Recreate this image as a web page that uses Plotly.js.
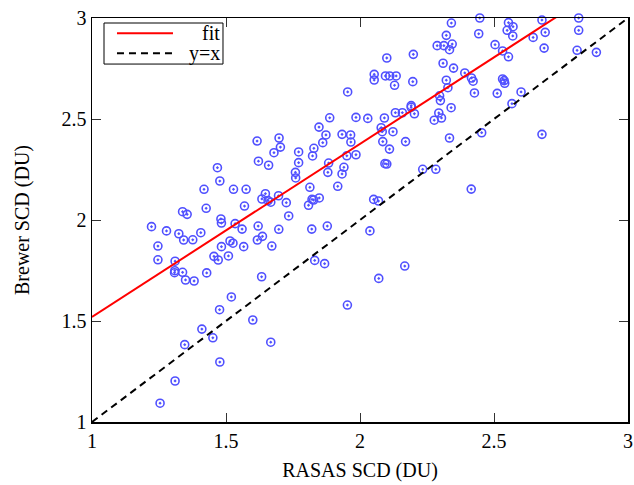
<!DOCTYPE html>
<html>
<head>
<meta charset="utf-8">
<script src="https://cdn.plot.ly/plotly-3.0.1.min.js"></script>
<style>html,body{margin:0;padding:0;background:#fff;}#chart{width:634px;height:485px;}</style>
</head>
<body>
<div id="chart"></div>
<script>
// RASAS SCD (x) vs Brewer SCD (y), both in DU
const rasas = [
1.468,1.477,1.621,1.659,1.679,1.418,1.528,1.575,1.647,1.634,1.657,1.667,1.696,1.725,1.734,
1.338,1.355,1.426,1.569,1.481,1.483,1.534,1.560,1.620,1.697,1.222,1.278,1.324,1.342,1.376,
1.406,1.636,1.617,1.515,1.526,1.483,1.566,1.671,1.246,1.246,1.310,1.455,1.471,1.509,1.309,
1.308,1.338,1.349,1.381,1.428,1.633,1.520,1.476,1.600,1.410,1.451,1.346,1.667,1.477,1.310,
1.254,1.616,1.698,1.703,2.341,2.322,2.288,2.313,2.344,2.334,2.100,2.199,2.310,2.349,2.053,
2.053,2.095,2.111,2.135,2.129,2.197,2.322,2.328,1.954,2.297,2.300,2.340,1.887,1.985,2.029,
2.091,2.132,2.158,2.191,2.191,2.203,2.294,2.277,2.304,1.847,1.873,1.861,1.933,1.965,1.966,
2.079,2.083,2.123,2.085,2.110,2.170,2.334,1.771,1.828,1.823,1.951,1.985,1.771,1.759,1.760,
1.883,1.880,1.940,1.933,2.093,2.100,2.234,2.283,1.813,1.917,1.821,1.827,1.848,1.808,2.051,
2.069,1.820,1.878,2.037,1.831,1.868,2.167,2.070,1.953,2.447,2.554,2.571,2.549,2.570,2.443,
2.504,2.532,2.554,2.646,2.679,2.691,2.687,2.816,2.816,2.810,2.882,2.391,2.416,2.422,2.532,
2.538,2.540,2.427,2.512,2.601,2.567,2.454,2.679,2.415
];
const brewer = [
2.259,2.193,2.291,2.271,2.333,2.152,2.152,2.152,2.130,2.104,2.096,2.088,2.120,2.086,2.020,
2.041,2.028,2.058,2.069,2.005,1.985,1.982,1.955,1.970,1.954,1.967,1.946,1.932,1.901,1.902,
1.937,1.919,1.901,1.896,1.885,1.868,1.868,1.871,1.871,1.803,1.796,1.820,1.802,1.822,1.749,
1.739,1.741,1.703,1.698,1.738,1.719,1.619,1.556,1.505,1.460,1.417,1.383,1.395,1.297,1.203,
1.093,2.391,2.406,2.361,2.975,2.914,2.863,2.863,2.871,2.843,2.802,2.820,2.776,2.752,2.721,
2.693,2.713,2.713,2.713,2.667,2.685,2.692,2.655,2.634,2.615,2.591,2.556,2.506,2.508,2.503,
2.505,2.531,2.531,2.566,2.558,2.526,2.530,2.494,2.505,2.460,2.421,2.383,2.424,2.421,2.386,
2.457,2.437,2.437,2.388,2.351,2.388,2.406,2.337,2.355,2.317,2.318,2.323,2.284,2.236,2.208,
2.282,2.236,2.261,2.228,2.279,2.277,2.251,2.251,2.162,2.167,2.102,2.099,2.109,2.073,2.102,
2.094,1.955,1.970,1.946,1.800,1.784,1.772,1.711,1.579,3.000,2.977,2.957,2.939,2.911,2.922,
2.868,2.837,2.808,2.904,2.990,2.929,2.851,3.000,2.939,2.840,2.830,2.728,2.703,2.687,2.698,
2.690,2.677,2.629,2.627,2.634,2.576,2.432,2.424,2.153
];
// linear fit line and identity line end points
const fitX = [1, 3];
const fitY = [1.52, 3.234];
const idX = [1, 3];
const idY = [1, 3];
const tickVals = [1, 1.5, 2, 2.5, 3];
const tickText = ['1', '1.5', '2', '2.5', '3'];
const legendNames = ['fit', 'y=x'];

const serif = "'Liberation Serif', 'Times New Roman', 'DejaVu Serif', serif";

const traces = [
  {x: rasas, y: brewer, type: 'scatter', mode: 'markers', name: 'data', showlegend: false,
   cliponaxis: false,
   marker: {symbol: 'circle-open-dot', size: 8, color: 'rgb(80,80,255)', line: {width: 1.6, color: 'rgb(80,80,255)'}}},
  {x: fitX, y: fitY, type: 'scatter', mode: 'lines', name: legendNames[0], showlegend: false,
   line: {color: '#ff0000', width: 2}},
  {x: idX, y: idY, type: 'scatter', mode: 'lines', name: legendNames[1], showlegend: false,
   line: {color: '#000000', width: 2, dash: '7px,5px'}}
];

const axisCommon = {
  range: [1, 3], tickvals: tickVals, ticktext: tickText,
  ticks: 'inside', ticklen: 9, tickwidth: 1, tickcolor: '#333',
  mirror: 'allticks', showline: true, linecolor: '#000', linewidth: 1.5,
  showgrid: false, zeroline: false,
  tickfont: {family: serif, size: 20, color: '#000'}
};

const layout = {
  width: 634, height: 485,
  margin: {l: 92, r: 6, t: 18, b: 63},
  paper_bgcolor: '#fff', plot_bgcolor: '#fff',
  font: {family: serif},
  showlegend: false,
  xaxis: Object.assign({}, axisCommon, {
    title: {text: 'RASAS SCD (DU)', font: {family: serif, size: 20, color: '#000'}, standoff: 12}
  }),
  yaxis: Object.assign({}, axisCommon, {
    title: {text: 'Brewer SCD (DU)', font: {family: serif, size: 20, color: '#000'}, standoff: 26}
  }),
  shapes: [
    {type: 'rect', xref: 'paper', yref: 'paper', x0: 0.0224, x1: 0.2444, y0: 0.886, y1: 0.9876,
     line: {color: '#000', width: 1}, fillcolor: 'rgba(255,255,255,0)'},
    {type: 'line', xref: 'paper', yref: 'paper', x0: 0.0466, x1: 0.1511, y0: 0.9621, y1: 0.9621,
     line: {color: '#ff0000', width: 2}},
    {type: 'line', xref: 'paper', yref: 'paper', x0: 0.0466, x1: 0.1511, y0: 0.9126, y1: 0.9126,
     line: {color: '#000', width: 2, dash: '7px,5px'}}
  ],
  annotations: [
    {xref: 'paper', yref: 'paper', x: 0.2425, y: 0.9621, xanchor: 'right', yanchor: 'middle',
     text: legendNames[0], showarrow: false, font: {family: serif, size: 20, color: '#000'}},
    {xref: 'paper', yref: 'paper', x: 0.2425, y: 0.9126, xanchor: 'right', yanchor: 'middle',
     text: legendNames[1], showarrow: false, font: {family: serif, size: 20, color: '#000'}}
  ]
};

Plotly.newPlot('chart', traces, layout, {displayModeBar: false, staticPlot: true});
</script>
</body>
</html>
